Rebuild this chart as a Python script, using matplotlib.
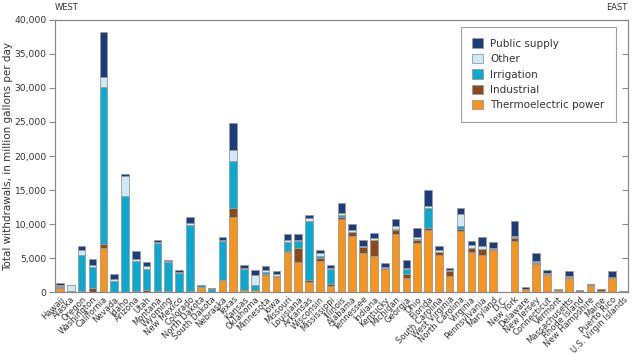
import matplotlib.pyplot as plt
import numpy as np

states = ["Hawaii", "Alaska", "Oregon", "Washington", "California", "Nevada", "Idaho",
          "Arizona", "Utah", "Montana", "Wyoming", "New Mexico", "Colorado",
          "North Dakota", "South Dakota", "Nebraska", "Texas", "Kansas", "Oklahoma",
          "Minnesota", "Iowa", "Missouri", "Louisiana", "Arkansas", "Wisconsin",
          "Mississippi", "Illinois", "Alabama", "Tennessee", "Indiana", "Kentucky",
          "Michigan", "Georgia", "Ohio", "Florida", "South Carolina", "West Virginia",
          "North Carolina", "Virginia", "Pennsylvania", "Maryland", "D.C.", "New York",
          "Delaware", "New Jersey", "Connecticut", "Vermont", "Massachusetts",
          "Rhode Island", "New Hampshire", "Maine", "Puerto Rico", "U.S. Virgin Islands"]

# withdrawals, million gallons per day
thermo = [650, 50, 0, 50, 6480, 0, 0, 100, 70, 50, 60, 50, 70, 750, 20, 1800, 11050,
          300, 290, 2450, 2210, 5890, 4370, 1470, 4570, 930, 10700, 8200, 5750, 5300,
          3340, 8500, 2060, 7220, 9180, 5450, 2360, 8990, 5940, 5400, 6140, 0, 7560,
          400, 4170, 2500, 300, 2010, 200, 880, 100, 2110, 150]
industrial = [50, 60, 100, 500, 540, 20, 50, 50, 190, 150, 100, 30, 150, 80, 20, 50, 1380,
              50, 100, 200, 150, 100, 2110, 340, 490, 250, 390, 590, 840, 2310, 200, 640,
              540, 490, 250, 440, 790, 290, 490, 880, 200, 0, 440, 40, 100, 150, 20, 50,
              30, 50, 300, 50, 20]
irrigation = [250, 0, 5300, 3100, 23180, 1550, 14090, 4460, 3190, 7020, 4200, 2720, 9700,
              150, 400, 5600, 6820, 3050, 590, 250, 50, 1370, 980, 8690, 300, 2160, 250,
              100, 50, 100, 50, 200, 790, 50, 2900, 50, 0, 390, 50, 50, 50, 0, 50, 60,
              150, 0, 10, 100, 0, 0, 0, 0, 0]
other = [80, 900, 740, 400, 1470, 390, 2900, 200, 340, 200, 150, 100, 250, 30, 80, 250,
         1570, 200, 1470, 390, 200, 340, 250, 390, 390, 150, 300, 200, 100, 290, 150, 390,
         200, 290, 340, 200, 50, 1770, 440, 390, 150, 0, 250, 0, 200, 150, 10, 150, 0, 50,
         20, 100, 0]
public = [250, 80, 590, 870, 6480, 640, 300, 1280, 690, 300, 200, 300, 880, 100, 100, 350,
          4070, 430, 740, 540, 440, 880, 880, 490, 440, 440, 1470, 930, 980, 690, 590, 1080,
          1180, 1370, 2310, 640, 340, 980, 640, 1370, 840, 10, 2210, 200, 1080, 490, 60,
          740, 120, 250, 80, 840, 30]

series = [thermo, industrial, irrigation, other, public]
labels = ["Thermoelectric power", "Industrial", "Irrigation", "Other", "Public supply"]
colors = ["#f7941d", "#8b4a1e", "#0aaad0", "#cdeaf6", "#1d3c7c"]

txt = "#333333"
fig = plt.figure(figsize=(6.4, 3.55), dpi=100)
ax = fig.add_axes([0.086, 0.177, 0.895, 0.767])

x = np.arange(len(states))
bottom = np.zeros(len(states))
handles = []
for vals, lab, col in zip(series, labels, colors):
    b = ax.bar(x, vals, 0.7, bottom=bottom, color=col, edgecolor="#9a9a9a",
               linewidth=0.6, label=lab)
    handles.append(b)
    bottom += np.array(vals)

ax.set_xlim(-0.46, len(states) - 0.54)
ax.set_ylim(0, 40000)
ax.set_yticks(np.arange(0, 40001, 5000))
ax.set_yticklabels([f"{v:,}" for v in range(0, 40001, 5000)], fontsize=6.6, color=txt)
ax.set_xticks(x)
ax.set_xticklabels(states, rotation=45, ha="right", rotation_mode="anchor",
                   fontsize=6, color=txt)
ax.tick_params(axis="x", length=0, pad=2)
ax.tick_params(axis="y", length=4, color="#888888", direction="out", pad=2)
ax.set_ylabel("Total withdrawals, in million gallons per day", fontsize=7.5,
              color=txt)
ax.yaxis.set_label_coords(-0.074, 0.5)

ax2 = ax.twinx()
ax2.set_ylim(0, 40000)
ax2.set_yticks(np.arange(0, 40001, 5000))
ax2.tick_params(axis="y", direction="in", length=4, color="#888888", labelright=False)

for a in (ax, ax2):
    for s in a.spines.values():
        s.set_color("#888888")
        s.set_linewidth(0.8)

ax.text(0.0, 1.03, "WEST", transform=ax.transAxes, fontsize=6, color=txt,
        ha="left", va="bottom")
ax.text(1.0, 1.03, "EAST", transform=ax.transAxes, fontsize=6, color=txt,
        ha="right", va="bottom")

leg = ax2.legend(handles[::-1], labels[::-1], loc="upper right",
                 bbox_to_anchor=(0.979, 0.974), borderaxespad=0, fontsize=7.5,
                 fancybox=False, edgecolor="#888888", handlelength=1, handleheight=1,
                 borderpad=1.1, labelspacing=0.5, handletextpad=0.7)
leg.get_frame().set_linewidth(0.8)
for t in leg.get_texts():
    t.set_color(txt)

plt.savefig("out.png", dpi=100)
